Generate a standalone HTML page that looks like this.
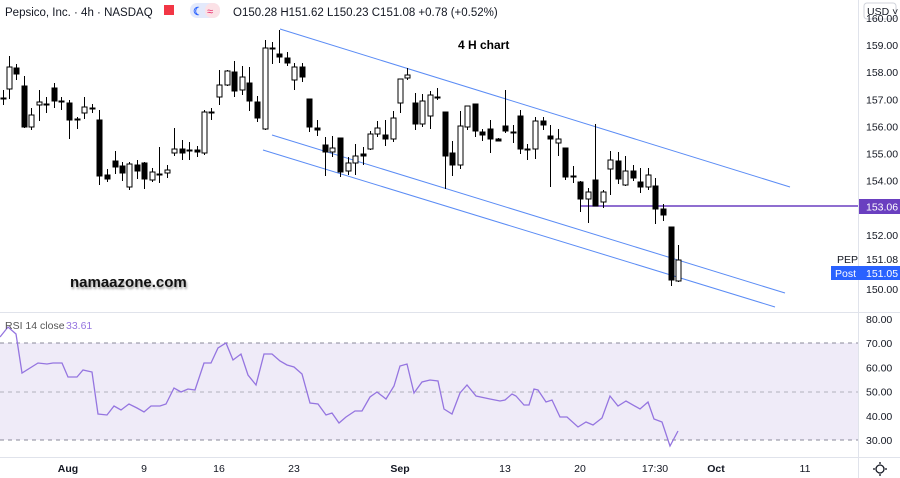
<!DOCTYPE html>
<html><head><meta charset="utf-8"><style>
body{margin:0;background:#fff;width:900px;height:478px;overflow:hidden}
svg{display:block;font-family:"Liberation Sans",sans-serif}
</style></head><body>
<svg id="s" width="900" height="478" xmlns="http://www.w3.org/2000/svg">
<rect x="0" y="0" width="900" height="478" fill="#fff"/>
<rect x="0" y="343" width="858" height="97" fill="#efebf8"/>
<line x1="0" y1="343" x2="858" y2="343" stroke="#8a8a9a" stroke-dasharray="4,4" stroke-width="1"/>
<line x1="0" y1="392" x2="858" y2="392" stroke="#b0b0bb" stroke-dasharray="4,4" stroke-width="1"/>
<line x1="0" y1="440" x2="858" y2="440" stroke="#8a8a9a" stroke-dasharray="4,4" stroke-width="1"/>
<line x1="0" y1="312.5" x2="900" y2="312.5" stroke="#e0e3eb"/>
<line x1="0" y1="457.5" x2="900" y2="457.5" stroke="#e0e3eb"/>
<line x1="858.5" y1="0" x2="858.5" y2="478" stroke="#e0e3eb"/>
<line x1="280" y1="29" x2="790" y2="187" stroke="#5b8cf5" stroke-width="1"/>
<line x1="272" y1="135" x2="785" y2="293" stroke="#5b8cf5" stroke-width="1"/>
<line x1="263" y1="150" x2="775" y2="307" stroke="#5b8cf5" stroke-width="1"/>
<line x1="580" y1="206" x2="858" y2="206" stroke="#6a3fc0" stroke-width="1.5"/>
<g id="c"></g>
<polyline id="rsi" fill="none" stroke="#9575e0" stroke-width="1.3"/>
<text x="5" y="16" font-size="11.5" fill="#131722">Pepsico, Inc. · 4h · NASDAQ</text>
<rect x="164" y="5" width="10" height="10" fill="#f23645"/>
<rect x="190" y="3" width="30" height="15" rx="7" fill="#e3e9fb"/>
<rect x="205" y="3" width="15" height="15" rx="7" fill="#fbe1e6"/>
<text x="193" y="15" font-size="11" fill="#2962ff" font-weight="bold">☾</text>
<text x="207" y="15" font-size="11" fill="#e91e63">≈</text>
<text x="233" y="16" font-size="11.5" fill="#131722">O150.28  H151.62  L150.23  C151.08  +0.78 (+0.52%)</text>
<text x="458" y="49" font-size="12" font-weight="bold" fill="#000">4 H chart</text>
<text x="70" y="287" font-size="15" font-weight="bold" fill="#111" style="text-shadow:1px 2px 2px #999">namaazone.com</text>
<text x="5" y="329" font-size="10.5" fill="#555">RSI 14 close</text>
<text x="66" y="329" font-size="10.5" fill="#9575e0">33.61</text>
<rect x="864" y="3" width="32" height="16" rx="3" fill="#fff" stroke="#d0d3db"/>
<text x="867" y="15" font-size="10.5" fill="#131722">USD ˅</text>
<g font-size="10.5" fill="#131722" id="ax"></g>
<rect x="859" y="199" width="41" height="15" fill="#6a3fc0"/>
<text x="866" y="210.5" font-size="10.5" fill="#fff">153.06</text>
<text x="837" y="263" font-size="10.5" fill="#131722">PEP</text>
<text x="866" y="263" font-size="10.5" fill="#131722">151.08</text>
<rect x="831" y="266" width="69" height="14" fill="#2962ff"/>
<text x="835" y="277" font-size="10.5" fill="#fff">Post</text>
<text x="866" y="277" font-size="10.5" fill="#fff">151.05</text>
<g font-size="10.5" fill="#131722" text-anchor="middle">
<text x="68" y="472" font-weight="bold">Aug</text><text x="144" y="472">9</text><text x="219" y="472">16</text><text x="294" y="472">23</text>
<text x="400" y="472" font-weight="bold">Sep</text><text x="505" y="472">13</text><text x="580" y="472">20</text><text x="655" y="472">17:30</text>
<text x="716" y="472" font-weight="bold">Oct</text><text x="805" y="472">11</text>
</g>
<circle cx="880" cy="469" r="4" fill="none" stroke="#131722" stroke-width="1.3"/>
<g stroke="#131722" stroke-width="1.3">
<line x1="880" y1="462" x2="880" y2="464"/><line x1="880" y1="474" x2="880" y2="476"/>
<line x1="873" y1="469" x2="875" y2="469"/><line x1="885" y1="469" x2="887" y2="469"/>
</g>
</svg>
<script>
var N="http://www.w3.org/2000/svg";
function el(t,a,p){var e=document.createElementNS(N,t);for(var k in a)e.setAttribute(k,a[k]);(p||document.getElementById('c')).appendChild(e);return e;}
var C=[[3,98,98,90,105,1],[9,67,89,56,99,1],[16,68,74,64,80,0],[24,86,127,76,128,0],[31,115,127,108,130,1],[39,102,105,90,121,1],[46,104,104,97,113,1],[54,88,101,83,108,0],[61,101,101,97,110,1],[69,103,120,100,139,0],[77,119,119,117,129,1],[84,107,113,97,119,1],[92,108,108,104,113,1],[99,120,176,110,185,0],[107,175,179,169,182,0],[115,161,167,151,174,0],[122,166,173,162,181,0],[129,164,187,162,190,1],[137,165,171,160,179,0],[144,163,179,162,189,0],[152,172,180,168,182,1],[159,174,174,147,183,1],[167,170,173,165,178,1],[174,149,153,128,156,1],[182,149,153,140,160,0],[189,150,150,142,160,1],[197,150,152,146,157,0],[204,112,153,110,155,1],[211,112,112,108,120,1],[219,85,97,70,105,1],[227,71,85,70,86,1],[234,72,91,61,97,0],[242,77,90,66,95,1],[249,83,101,67,111,0],[257,102,118,96,122,0],[265,48,129,40,130,1],[272,48,48,42,64,1],[279,54,57,30,63,0],[287,58,63,52,66,0],[294,67,80,63,90,1],[302,67,77,63,82,0],[309,99,127,99,132,0],[317,128,130,120,136,0],[325,145,152,137,176,0],[332,148,152,136,157,1],[340,138,172,138,177,0],[348,163,171,157,175,1],[355,156,163,144,175,1],[363,154,156,147,165,0],[370,134,149,131,150,1],[377,128,134,121,137,1],[385,135,139,120,146,0],[393,118,139,111,142,1],[400,79,103,79,113,1],[407,75,78,68,80,1],[415,103,124,93,130,0],[422,101,124,94,127,1],[430,95,116,91,129,1],[437,97,97,88,100,1],[445,112,156,112,189,0],[452,153,165,141,176,0],[460,126,165,111,169,1],[467,106,127,106,130,1],[475,104,131,104,137,0],[482,132,135,129,141,0],[490,129,139,120,153,0],[498,139,141,138,141,0],[505,126,131,90,133,0],[513,132,132,125,143,1],[520,116,149,110,154,0],[527,149,150,144,160,1],[535,121,149,117,159,1],[543,121,125,117,130,0],[550,136,139,125,187,0],[558,139,143,129,156,1],[565,148,177,148,180,0],[573,176,176,166,183,1],[580,182,199,181,212,0],[588,192,199,188,223,1],[595,180,206,124,206,0],[603,192,202,190,208,1],[610,160,169,151,195,1],[618,161,179,152,184,0],[625,171,185,156,186,1],[633,171,178,165,181,0],[640,182,187,168,193,0],[648,175,187,168,190,1],[655,186,209,178,224,0],[663,209,215,204,221,0],[671,227,280,227,286,0],[678,260,281,245,282,1]];
C.forEach(function(c){
 el('line',{x1:c[0]+.5,x2:c[0]+.5,y1:c[3],y2:c[4],stroke:'#000','stroke-width':1});
 var h=Math.max(1,c[2]-c[1]);
 el('rect',{x:c[0]-2,y:c[1],width:5,height:h,fill:c[5]?'#fff':'#000',stroke:'#000','stroke-width':1});
});
var R=[[0,337],[8,327],[16,334],[22,373],[38,363],[47,364],[53,363],[62,363],[68,377],[77,377],[83,370],[92,372],[98,414],[107,415],[114,406],[121,410],[129,404],[137,408],[144,412],[151,406],[160,406],[166,404],[174,388],[181,392],[188,389],[195,390],[204,363],[211,363],[218,348],[226,343],[233,360],[241,354],[248,375],[256,385],[264,354],[272,354],[280,361],[287,365],[294,367],[302,374],[310,403],[318,404],[326,415],[332,413],[339,423],[346,417],[355,411],[362,411],[370,397],[377,392],[386,399],[394,386],[400,366],[407,364],[414,393],[422,382],[430,380],[438,381],[444,409],[452,414],[460,393],[467,385],[476,396],[490,399],[500,401],[505,400],[512,394],[516,396],[524,405],[529,405],[534,389],[538,390],[546,402],[552,400],[560,417],[567,417],[578,427],[586,422],[593,425],[602,418],[610,396],[618,406],[626,401],[640,409],[648,402],[654,419],[662,422],[670,446],[678,431]];
document.getElementById('rsi').setAttribute('points',R.map(function(p){return p.join(',')}).join(' '));
var ax=document.getElementById('ax');
for(var p=150;p<=160;p++){var y=289-(p-150)*27.1;if(p==153||p==151)continue;var t=el('text',{x:866,y:y+4},ax);t.textContent=p+'.00';}
[80,70,60,50,40,30].forEach(function(v){var y=440-(v-30)*2.42;var t=el('text',{x:866,y:y+4},ax);t.textContent=v+'.00';});
</script>
</body></html>
